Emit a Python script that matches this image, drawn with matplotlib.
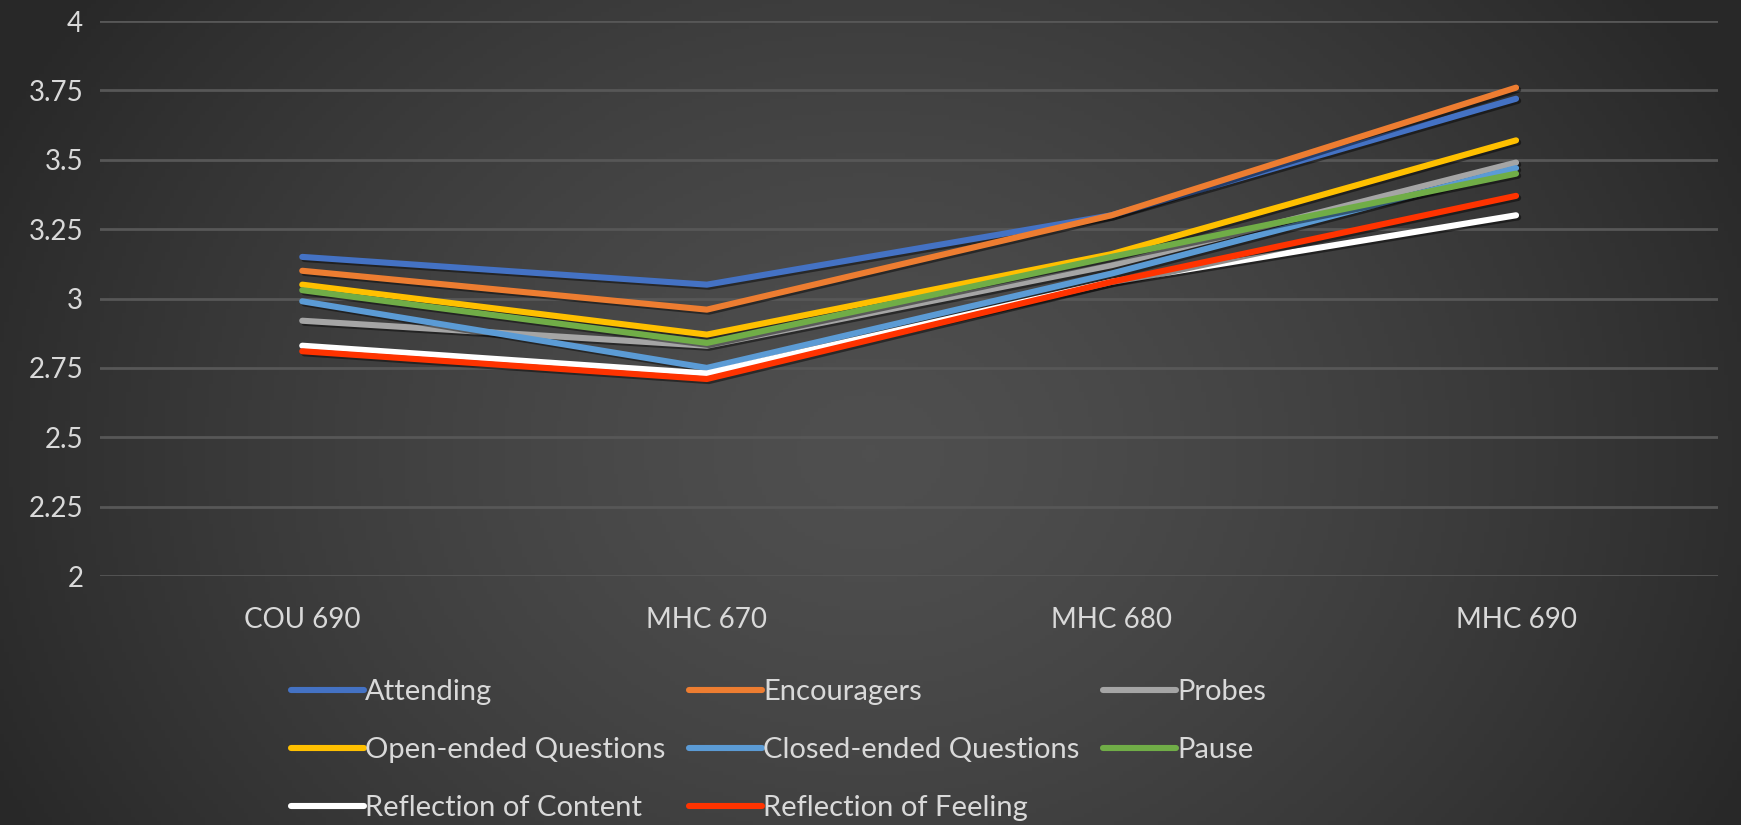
import numpy as np
import matplotlib.pyplot as plt
import matplotlib.patheffects as pe
from matplotlib.lines import Line2D

plt.rcParams['font.family'] = ['Lato', 'DejaVu Sans']

courses = ['COU 690', 'MHC 670', 'MHC 680', 'MHC 690']

attending = [3.15, 3.05, 3.30, 3.72]
encouragers = [3.10, 2.96, 3.30, 3.76]
probes = [2.92, 2.83, 3.12, 3.49]
open_ended = [3.05, 2.87, 3.16, 3.57]
closed_ended = [2.99, 2.75, 3.09, 3.47]
pause = [3.03, 2.84, 3.15, 3.45]
reflection_content = [2.83, 2.73, 3.06, 3.30]
reflection_feeling = [2.81, 2.71, 3.06, 3.37]

series = [
    ('Attending', attending, '#4472C4'),
    ('Encouragers', encouragers, '#ED7D31'),
    ('Probes', probes, '#A5A5A5'),
    ('Open-ended Questions', open_ended, '#FFC000'),
    ('Closed-ended Questions', closed_ended, '#5B9BD5'),
    ('Pause', pause, '#70AD47'),
    ('Reflection of Content', reflection_content, '#FFFFFF'),
    ('Reflection of Feeling', reflection_feeling, '#FF3300'),
]

fig = plt.figure(figsize=(17.41, 8.25), dpi=100)

# radial background, lighter in the middle
bg = fig.add_axes([0, 0, 1, 1], zorder=-10)
gx, gy = np.meshgrid(np.linspace(0, 1, 400), np.linspace(0, 1, 200))
r = np.sqrt(((gx - 0.5) / 0.55) ** 2 + ((gy - 0.55) / 0.95) ** 2)
shade = 0.31 - 0.15 * np.clip(r, 0, 1) ** 1.4
bg.imshow(np.dstack([shade] * 3), aspect='auto', extent=[0, 1, 1, 0])
bg.set_xlim(0, 1)
bg.set_ylim(1, 0)
bg.axis('off')

ax = fig.add_axes([0.0574, 0.3018, 0.9296, 0.6727])
ax.set_facecolor('none')

x = np.arange(len(courses))
handles = {}
for name, vals, color in series:
    ax.plot(x, vals, color=color, lw=4.4, solid_capstyle='round',
            path_effects=[pe.SimpleLineShadow(offset=(1.5, -1.5), shadow_color='black', alpha=0.45),
                          pe.Normal()], zorder=3)
    handles[name] = Line2D([], [], color=color, lw=4.4, solid_capstyle='round')

ax.set_xlim(-0.5, 3.5)
ax.set_ylim(2, 4)
ax.set_yticks(np.arange(2, 4.01, 0.25))
ax.set_yticklabels(['2', '2.25', '2.5', '2.75', '3', '3.25', '3.5', '3.75', '4'])
ax.set_xticks(x)
ax.set_xticklabels(courses)
ax.grid(axis='y', color='#575757', lw=2.0, zorder=0)
ax.tick_params(axis='both', length=0, colors='#D9D9D9', labelsize=20)
ax.tick_params(axis='y', pad=12)
ax.tick_params(axis='x', pad=22)
for s in ax.spines.values():
    s.set_visible(False)

# row-major ordering across three columns
order = ['Attending', 'Open-ended Questions', 'Reflection of Content',
         'Encouragers', 'Closed-ended Questions', 'Reflection of Feeling',
         'Probes', 'Pause']
leg = fig.legend([handles[n] for n in order], order, ncol=3,
                 loc='upper left', bbox_to_anchor=(0.167, 0.177),
                 frameon=False, fontsize=21, labelcolor='#D9D9D9',
                 handlelength=2.5, handletextpad=0.05, columnspacing=0.8,
                 labelspacing=1.1, borderpad=0, borderaxespad=0)

fig.savefig('out.png', dpi=100)
